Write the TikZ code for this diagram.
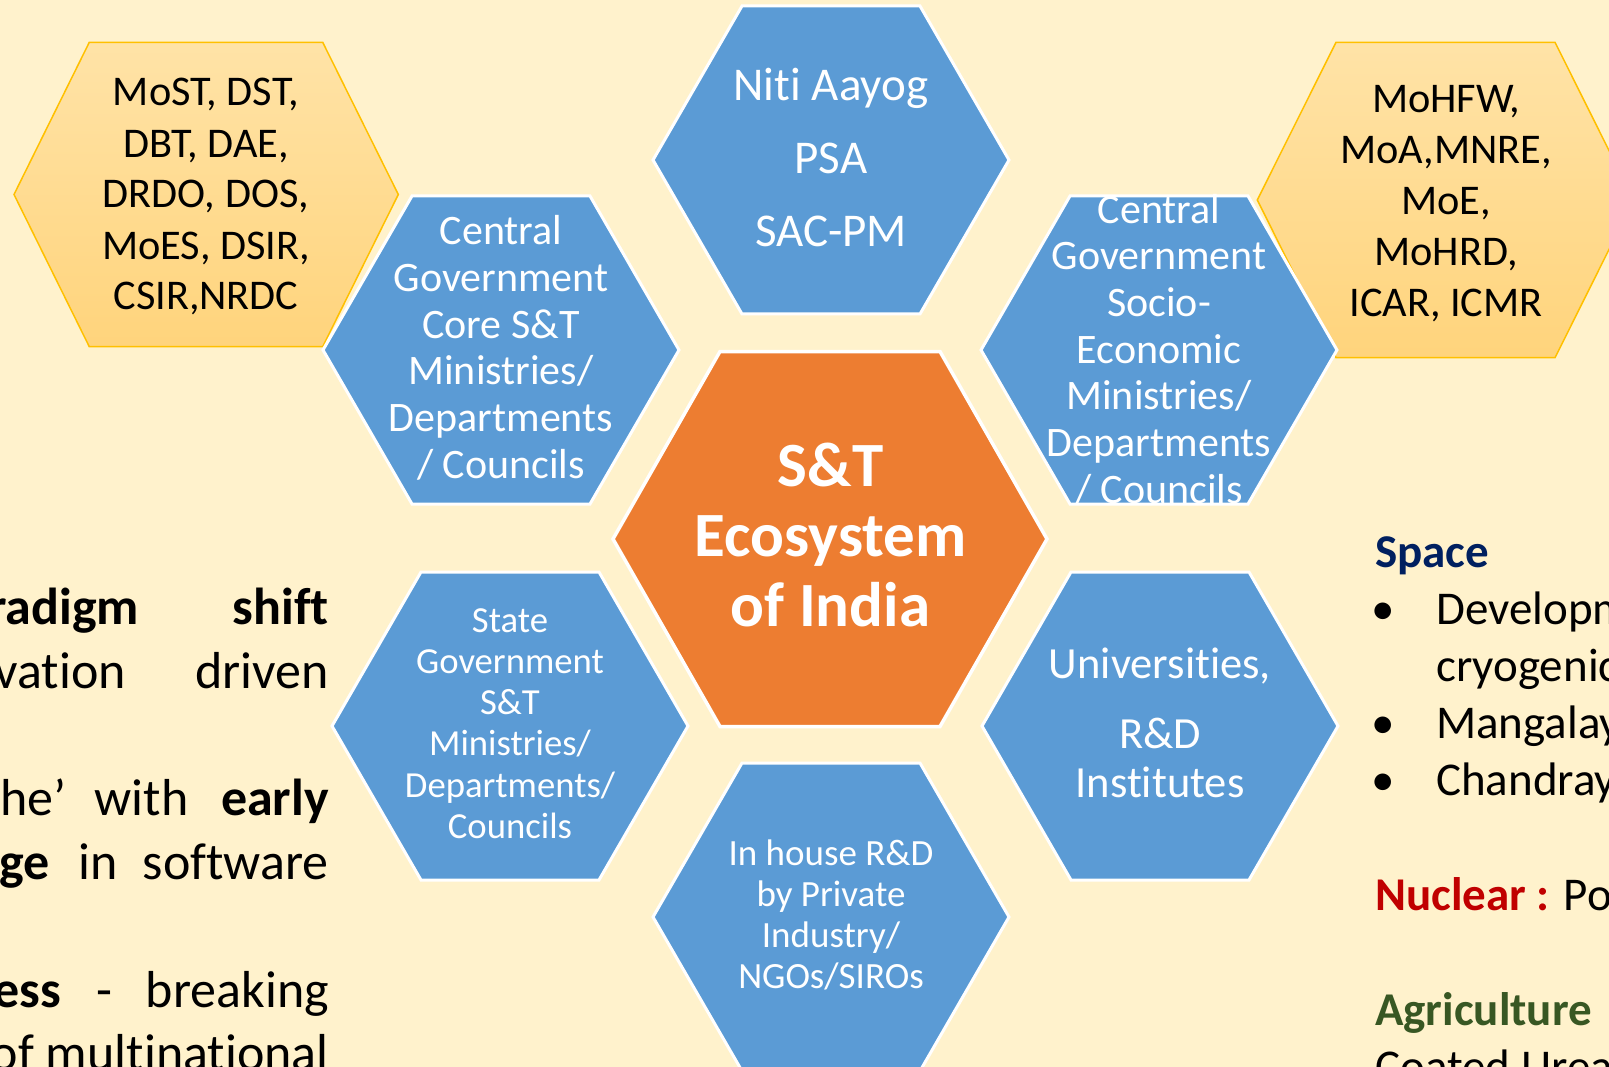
\documentclass[tikz,border=0pt]{standalone}
\usepackage{fontspec}
\setmainfont{Carlito}[Ligatures=NoCommon]
\usetikzlibrary{calc}
\definecolor{slidebg}{HTML}{FFF2CC}
\definecolor{hexblue}{HTML}{5B9BD5}
\definecolor{hexorange}{HTML}{ED7D31}
\definecolor{goldtop}{HTML}{FFE3A7}
\definecolor{goldbot}{HTML}{FFD47C}
\definecolor{goldline}{HTML}{FFC000}
\definecolor{spaceblue}{HTML}{002060}
\definecolor{nuclearred}{HTML}{C00000}
\definecolor{agrigreen}{HTML}{385723}

\begin{document}
\begin{tikzpicture}[x=1pt,y=-1pt,
  bluehex/.style={fill=hexblue,draw=white,line width=3pt},
  orangehex/.style={fill=hexorange,draw=white,line width=3.5pt},
  goldhex/.style={top color=goldtop,bottom color=goldbot,draw=goldline,line width=1.5pt},
  celltext/.style={text=white,align=center,inner sep=0pt,anchor=base},
  listtext/.style={text=black,align=center,inner sep=0pt,anchor=base,font=\fontsize{42.3}{51}\selectfont},
  bodytext/.style={inner sep=0pt,font=\fontsize{52}{64}\selectfont},
  sidetext/.style={inner sep=0pt,anchor=base west,font=\fontsize{47}{57}\selectfont}]
\useasboundingbox (0,0) rectangle (1609,1067);
\clip (0,0) rectangle (1609,1067);
\fill[slidebg] (0,0) rectangle (1609,1067);

% gold lists
\draw[goldhex] (14,194.5) -- (89.3,42.3) -- (322.7,42.3) -- (398.3,194.5) -- (322.7,346.7) -- (89.3,346.7) -- cycle;
\draw[goldhex] (1257.3,200) -- (1336,42.3) -- (1555,42.3) -- (1633.7,200) -- (1555,357.7) -- (1336,357.7) -- cycle;

% blue cells
\foreach \cx/\cy in {831/160, 501/350, 1159/350, 510/726, 1160/726, 831/917}
  \draw[bluehex] (\cx-178,\cy) -- ++(89,-154) -- ++(178,0) -- ++(89,154) -- ++(-89,154) -- ++(-178,0) -- cycle;

% centre
\draw[orangehex] (613,539) -- (720,351.5) -- (940,351.5) -- (1047,539) -- (940,726.5) -- (720,726.5) -- cycle;

% nodes sit on the baseline of their last line
\node[listtext] (stlist) at (206,310) {MoST, DST,\\DBT, DAE,\\DRDO, DOS,\\MoES, DSIR,\\CSIR,NRDC};
\node[listtext] (sociolist) at (1446,316.7) {MoHFW,\\MoA,MNRE,\\MoE,\\MoHRD,\\ICAR, ICMR};

\node[celltext,font=\fontsize{47}{73}\selectfont] (niti) at (831,246.7) {Niti Aayog\\PSA\\SAC-PM};
\node[celltext,font=\fontsize{42}{46.7}\selectfont] (core) at (501,478.3) {Central\\Government\\Core S\&T\\Ministries/\\Departments\\/ Councils};
\node[celltext,font=\fontsize{42}{46.7}\selectfont] (socio) at (1159,503.3) {Central\\Government\\Socio-\\Economic\\Ministries/\\Departments\\/ Councils};
\node[celltext,font=\fontsize{36.7}{41.2}\selectfont] (state) at (510,838.3) {State\\Government\\S\&T\\Ministries/\\Departments/\\Councils};
\node[celltext,font=\fontsize{44.5}{49}\selectfont] (univ) at (1160,797.3) {Universities,\\[21pt]R\&D\\Institutes};
\node[celltext,font=\fontsize{37}{41}\selectfont] (inhouse) at (831,988.3) {In house R\&D\\by Private\\Industry/\\NGOs/SIROs};
\node[celltext,font=\fontsize{63}{70}\selectfont\bfseries] (eco) at (830.5,626.7) {S\&T\\Ecosystem\\of India};

% left text
\node[bodytext,anchor=base east] (la) at (139.3,624) {\bfseries radigm};
\node[bodytext,anchor=base east] (lb) at (329,624) {\bfseries shift};
\node[bodytext,anchor=base east] (lc) at (126,688) {vation};
\node[bodytext,anchor=base east] (ld) at (329,688) {driven};
\node[bodytext,anchor=base west] (le) at (0,815.5) {he’};
\node[bodytext,anchor=base west] (lf) at (94.3,815.5) {with};
\node[bodytext,anchor=base east] (lg) at (329,815.5) {\bfseries early};
\node[bodytext,anchor=base east] (lh) at (50,879.3) {\bfseries ge};
\node[bodytext,anchor=base west] (li) at (78,879.3) {in};
\node[bodytext,anchor=base east] (lj) at (329,879.3) {software};
\node[bodytext,anchor=base east] (lk) at (61.7,1007) {\bfseries ess};
\node[bodytext,anchor=base west] (ll) at (96.7,1007) {-};
\node[bodytext,anchor=base east] (lm) at (329,1007) {breaking};
\node[bodytext,anchor=base east] (ln) at (329,1070.7) {of multinational};

% right text
\node[sidetext,text=spaceblue] (space) at (1375,567) {\bfseries Space};
\foreach \by/\nm in {624/ba, 738/bb, 795.6/bc}
  \node[sidetext,anchor=base] (\nm) at (1383,\by) {•};
\node[sidetext] (sa) at (1436,624) {Developm};
\node[sidetext] (sb) at (1436,681.3) {cryogenic};
\node[sidetext] (sc) at (1436,738) {Mangalay};
\node[sidetext] (sd) at (1436,795.6) {Chandray};
\node[sidetext] (nuclear) at (1375,910) {{\color{nuclearred}\bfseries Nuclear :} Po};
\node[sidetext,text=agrigreen] (agri) at (1375,1025) {\bfseries Agriculture};
\node[sidetext] (urea) at (1375,1082) {Coated Urea};
\end{tikzpicture}
\end{document}
